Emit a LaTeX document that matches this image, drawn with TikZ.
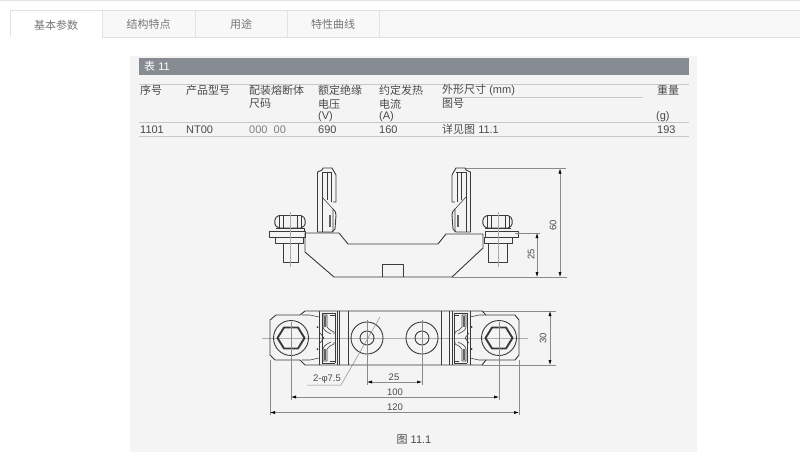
\documentclass[tikz,border=0pt]{standalone}
\usepackage{fontspec}
\setmainfont{Liberation Sans}
\newfontfamily\cjk{Noto Sans CJK SC}
\usetikzlibrary{arrows.meta}
\definecolor{panel}{HTML}{F4F4F4}
\definecolor{bar}{HTML}{868C92}
\definecolor{tabbg}{HTML}{F8F8F8}
\definecolor{tabline}{HTML}{E2E2E2}
\definecolor{ink}{HTML}{4A4A4A}
\definecolor{rule}{HTML}{C8C8C8}
\definecolor{tabtext}{HTML}{777777}
\definecolor{drw}{HTML}{3A3A3A}
\definecolor{dimc}{HTML}{8A8A8A}
\tikzset{
  cell/.style={anchor=west,inner sep=0pt,text=ink,font=\fontsize{11}{12}\selectfont},
  tabt/.style={inner sep=0pt,text=tabtext,font=\fontsize{11}{12}\cjk},
  part/.style={draw=drw,line width=0.9pt,line join=round,fill=none},
  thin part/.style={draw=drw,line width=0.55pt,line join=round},
  stripe/.style={draw=drw!80,line width=1.6pt},
  axis/.style={draw=dimc!70,line width=0.4pt},
  extline/.style={draw=dimc,line width=0.5pt},
  dimline/.style={draw=dimc,line width=0.5pt,{Latex[length=5pt,width=3pt,color=black]}-{Latex[length=5pt,width=3pt,color=black]}},
  dimt/.style={inner sep=0pt,text=ink,font=\fontsize{9.5}{10}\selectfont},
}
\newcommand{\zh}[1]{{\cjk #1}}
\newcommand{\frontclip}{%
  \draw[part] (317.5,232) -- (317.5,172) -- (322,170) -- (323,168) -- (332,168) -- (336,175) -- (336,202) -- (333,202);
  \draw[part] (333,209) .. controls (335,211) and (336,212) .. (336,215) -- (335,229) -- (332,232) -- (317.5,232);
  \draw[thin part] (322,232) -- (322,172) -- (332,172);
  \draw[thin part] (327,172) -- (327,200);
  \draw[thin part] (331,172) -- (331,202);
  \draw[thin part] (322,197) -- (333,209) -- (333,232);
  \draw[stripe] (330,215) -- (330,227);
}
\newcommand{\topclipquarter}{%
  \draw[thin part] (322,313) -- (335,313);
  \draw[thin part] (323,315) -- (327,315) -- (327,327) .. controls (328,330) and (331,330) .. (334,332) -- (334,334);
  \draw[thin part] (323,315) -- (323,327) .. controls (324,331) and (327,332) .. (331,334);
  \draw[stripe] (325,316) -- (325,327);
  \draw[thin part] (330,315) -- (335,315);
  \draw[thin part] (320,333) -- (324,338);
  \fill[drw] (317.5,327) circle (1);
}
\newcommand{\topclip}{%
  \draw[part] (319,311) -- (319,365);
  \draw[thin part] (322,313) -- (322,363);
  \draw[thin part] (335,313) -- (335,363);
  \draw[part] (337,311) -- (337,365);
  \draw[thin part] (339.5,311) -- (339.5,365);
  \draw[part] (348,311) -- (348,365);
  \topclipquarter
  \begin{scope}[shift={(0,676)},yscale=-1]
    \topclipquarter
  \end{scope}
}
\begin{document}
\begin{tikzpicture}[x=1pt,y=-1pt]
\useasboundingbox (0,0) rectangle (800,466);
\fill[white] (0,0) rectangle (800,466);
% tabs
\draw[tabline,line width=1pt] (0,0.5) -- (800,0.5);
\fill[tabbg] (103,11) rectangle (800,37);
\draw[tabline,line width=0.8pt] (10,37) -- (10,10.5) -- (800,10.5);
\draw[tabline,line width=0.8pt] (102.5,10.5) -- (102.5,37) -- (800,37);
\foreach \x in {195.5,287.5,379.5} \draw[tabline,line width=0.8pt] (\x,10.5) -- (\x,37);
\node[tabt] (t1) at (56,25) {基本参数};
\node[tabt] (t2) at (148.5,24.5) {结构特点};
\node[tabt] (t3) at (241,24.5) {用途};
\node[tabt] (t4) at (333,24.5) {特性曲线};
% panel
\fill[panel] (130,56) rectangle (697,452);
\fill[bar] (139,58) rectangle (689,75);
\node[cell,text=white] (title) at (144,66.5) {\zh{表} 11};
\draw[rule,line width=0.8pt] (139,84) -- (689,84);
\draw[rule,line width=0.8pt] (442,97.5) -- (643,97.5);
\draw[rule,line width=0.8pt] (139,122.5) -- (689,122.5);
\draw[rule,line width=0.8pt] (139,136) -- (689,136);
\node[cell] (h1) at (140,90) {\zh{序号}};
\node[cell] (h2) at (186,90) {\zh{产品型号}};
\node[cell] (h3) at (249,90) {\zh{配装熔断体}};
\node[cell] (h3b) at (249,104) {\zh{尺码}};
\node[cell] (h4) at (318,90) {\zh{额定绝缘}};
\node[cell] (h4b) at (318,104) {\zh{电压}};
\node[cell] (h4c) at (318,116.5) {(V)};
\node[cell] (h5) at (379,90) {\zh{约定发热}};
\node[cell] (h5b) at (379,104) {\zh{电流}};
\node[cell] (h5c) at (379,116.5) {(A)};
\node[cell] (h6) at (442,90) {\zh{外形尺寸} (mm)};
\node[cell] (h6b) at (442,104) {\zh{图号}};
\node[cell] (h7) at (657,90) {\zh{重量}};
\node[cell] (h7c) at (656,116.5) {(g)};
\node[cell] (d1) at (140,129.5) {1101};
\node[cell] (d2) at (186,129.5) {NT00};
\node[cell,text=ink!70] (d3) at (249,129.5) {000\ \ 00};
\node[cell] (d4) at (318,129.5) {690};
\node[cell] (d5) at (379,129.5) {160};
\node[cell] (d6) at (442,129.5) {\zh{详见图} 11.1};
\node[cell] (d7) at (657,129.5) {193};
% === front view ===
\draw[part] (305,233) -- (339,233) -- (348,244) -- (438,244) -- (446,234) -- (483,234) -- (483,248) -- (452,277) -- (334,277) -- (305,252) -- cycle;
\draw[part] (382,277) -- (382,264.5) -- (403,264.5) -- (403,277);
\frontclip
\begin{scope}[shift={(788,0)},xscale=-1]
\frontclip
\end{scope}
% left bolt
\draw[part,rounded corners=2pt] (277,215.5) -- (303,215.5) -- (306,222) -- (303,228) -- (277,228) -- (274,222) -- cycle;
\draw[thin part] (279,216) -- (279,228) (283,216) -- (283,228) (297,216) -- (297,228) (301,216) -- (301,228);
\draw[part] (276,228) -- (304,228) -- (304,231);
\draw[part] (269.5,231) rectangle (305,237);
\draw[part] (275,237) -- (275,243) -- (303,243) -- (303,237);
\draw[part] (283,243) -- (283,262) -- (298,262) -- (298,243);
\draw[axis] (290,212) -- (290,267);
% right bolt
\draw[part,rounded corners=2pt] (485,215.5) -- (510,215.5) -- (513,222) -- (510,228) -- (485,228) -- (482,222) -- cycle;
\draw[thin part] (487,216) -- (487,228) (491,216) -- (491,228) (505,216) -- (505,228) (509,216) -- (509,228);
\draw[part] (485,228) -- (511,228);
\draw[part] (485,231) rectangle (518,237);
\draw[part] (484,237) -- (484,243) -- (512,243) -- (512,237);
\draw[part] (488,243) -- (488,262) -- (507,262) -- (507,243);
\draw[axis] (498,212) -- (498,267);
% front dimensions
\draw[extline] (466,168.5) -- (566,168.5);
\draw[extline] (452,277) -- (567,277);
\draw[extline] (515,233) -- (540,233);
\draw[dimline] (560,168.5) -- (560,277);
\draw[dimline] (537,233) -- (537,277);
\node[dimt,rotate=90] (l60) at (553,225) {60};
\node[dimt,rotate=90] (l25a) at (531,254) {25};
% === top view ===
\draw[axis] (262,338) -- (528,338);
\draw[extline] (482,311) -- (556,311);
\draw[extline] (482,365) -- (556,365);
\draw[part] (300,315) -- (276,315) -- (270,320) -- (270,355) -- (275,360) -- (300,360);
\draw[part] (300,315) -- (305,311) -- (482,311) -- (486,315) -- (515,315) -- (519,320) -- (519,355) -- (515,360) -- (486,360) -- (482,365) -- (305,365) -- (300,360);
\draw[thin part] (302,315) -- (310,315) -- (319,317) (302,360) -- (310,360) -- (319,358);
\draw[thin part] (470,317) -- (479,315) -- (486,315) (470,358) -- (479,360) -- (486,360);
\topclip
\begin{scope}[shift={(789,0)},xscale=-1]
\topclip
\end{scope}
% holes
\draw[part] (367,338) circle (16);
\draw[part] (367,338) circle (7);
\draw[part] (422,338) circle (16);
\draw[part] (422,338) circle (7);
% bolts
\foreach \c in {291,499}{
  \draw[part] (\c,338) circle (17.5);
  \draw[draw=drw,line width=1.9pt,line join=round] (\c-13.5,338) -- (\c-7,327.5) -- (\c+7,327.5) -- (\c+13.5,338) -- (\c+7,348.5) -- (\c-7,348.5) -- cycle;
}
% top dimensions
\draw[extline] (367,320) -- (367,385);
\draw[extline] (422,320) -- (422,385);
\draw[extline] (291,322) -- (291,400);
\draw[extline] (499,322) -- (499,400);
\draw[extline] (270,360) -- (270,415);
\draw[extline] (519,360) -- (519,415);
\draw[dimline] (367,382) -- (422,382);
\draw[dimline] (291,397) -- (499,397);
\draw[dimline] (270,412.5) -- (519,412.5);
\draw[dimline] (550,311) -- (550,365);
\draw[extline] (307,385) -- (341,385) -- (380,317);
\node[dimt] (l25b) at (394,377) {25};
\node[dimt] (l100) at (395,392.5) {100};
\node[dimt] (l120) at (395,407.5) {120};
\node[dimt,rotate=90] (l30) at (543,338) {30};
\node[dimt] (lphi) at (327,379.5) {2-φ7.5};
\node[inner sep=0pt,text=ink,font=\fontsize{11}{12}\selectfont] (cap) at (414,440) {\zh{图} 11.1};
\end{tikzpicture}
\end{document}
